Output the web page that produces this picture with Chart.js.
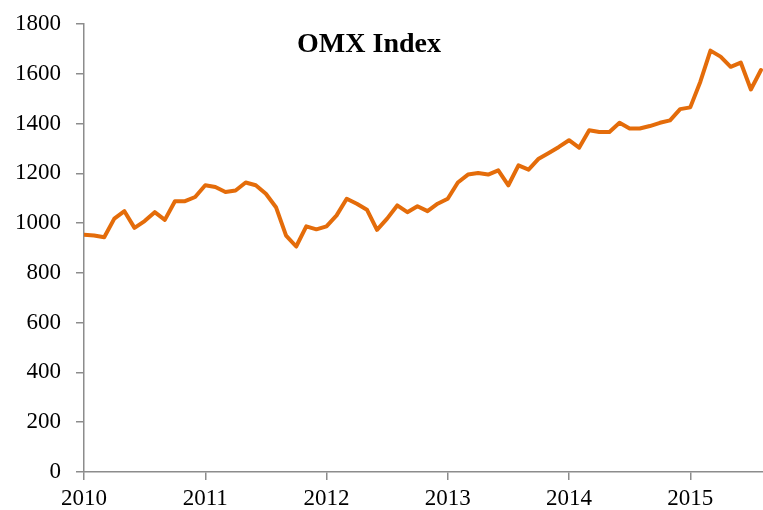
<!DOCTYPE html>
<html>
<head>
  <title>OMX Index</title>
  <script src="https://cdn.jsdelivr.net/npm/chart.js"></script>
  <style>
    body {
      margin: 0;
      background-color: #fff;
    }

    .chart-box {
      position: relative;
      width: 763px;
      height: 510px;
    }
  </style>
</head>
<body>
  <div class="chart-box">
    <canvas id="omxChart"></canvas>
  </div>

  <script>
    // monthly values, Jan 2010 .. Aug 2015
    const startYear = 2010;
    const omxValues = [
      953, 950, 943, 1018, 1048, 981, 1008, 1044, 1013, 1088, 1088, 1105,
      1152, 1145, 1125, 1131, 1163, 1152, 1118, 1064, 950, 906, 987, 975,
      987, 1031, 1098, 1078, 1054, 973, 1018, 1071, 1044, 1068, 1048, 1078,
      1098, 1163, 1195, 1201, 1195, 1212, 1152, 1232, 1215, 1259, 1282, 1306,
      1333, 1303, 1373, 1366, 1366, 1403, 1380, 1380, 1390, 1403, 1413, 1458,
      1465, 1568, 1693, 1669, 1628, 1645, 1537, 1615
    ];
    const yearTicks = [2010, 2011, 2012, 2013, 2014, 2015];
    const yTicks = [0, 200, 400, 600, 800, 1000, 1200, 1400, 1600, 1800];

    const points = omxValues.map((v, i) => ({ x: startYear + i / 12, y: v }));

    const serif = "'Liberation Serif', 'Times New Roman', serif";
    const axisGray = '#8c8c8c';

    // title sits inside the plot area
    const titlePlugin = {
      id: 'insideTitle',
      afterDraw(chart) {
        const ctx = chart.ctx;
        ctx.save();
        ctx.font = 'bold 28px ' + serif;
        ctx.fillStyle = '#000';
        ctx.textAlign = 'center';
        ctx.textBaseline = 'middle';
        ctx.fillText('OMX Index', 369, 45);
        ctx.restore();
      }
    };

    const ctx = document.getElementById('omxChart').getContext('2d');
    new Chart(ctx, {
      type: 'line',
      data: {
        datasets: [{
          label: 'OMX Index',
          data: points,
          borderColor: '#e46c0a',
          borderWidth: 4,
          borderJoinStyle: 'round',
          borderCapStyle: 'round',
          pointRadius: 0,
          tension: 0,
          fill: false
        }]
      },
      options: {
        responsive: true,
        maintainAspectRatio: false,
        animation: false,
        layout: { padding: { top: 24, right: 0, left: 0, bottom: 0 } },
        plugins: {
          legend: { display: false },
          tooltip: { enabled: false }
        },
        scales: {
          x: {
            type: 'linear',
            min: 2010,
            max: 2015.6,
            afterBuildTicks: axis => {
              axis.ticks = yearTicks.map(v => ({ value: v }));
            },
            afterFit: axis => {
              axis.height = 38;
              axis.paddingLeft = 0;
              axis.paddingRight = 0;
            },
            border: { color: axisGray, width: 1.5 },
            grid: { drawOnChartArea: false, drawTicks: true, tickLength: 8, color: axisGray, lineWidth: 1.5 },
            ticks: {
              color: '#000',
              font: { family: serif, size: 23 },
              padding: 5,
              maxRotation: 0,
              callback: v => String(v)
            }
          },
          y: {
            min: 0,
            max: 1800,
            afterBuildTicks: axis => {
              axis.ticks = yTicks.map(v => ({ value: v }));
            },
            afterFit: axis => {
              axis.width = 84;
              axis.paddingTop = 0;
              axis.paddingBottom = 0;
            },
            border: { color: axisGray, width: 1.5 },
            grid: { drawOnChartArea: false, drawTicks: true, tickLength: 8, color: axisGray, lineWidth: 1.5 },
            ticks: {
              color: '#000',
              font: { family: serif, size: 23 },
              padding: 15,
              callback: v => String(v)
            }
          }
        }
      },
      plugins: [titlePlugin]
    });
  </script>
</body>
</html>
